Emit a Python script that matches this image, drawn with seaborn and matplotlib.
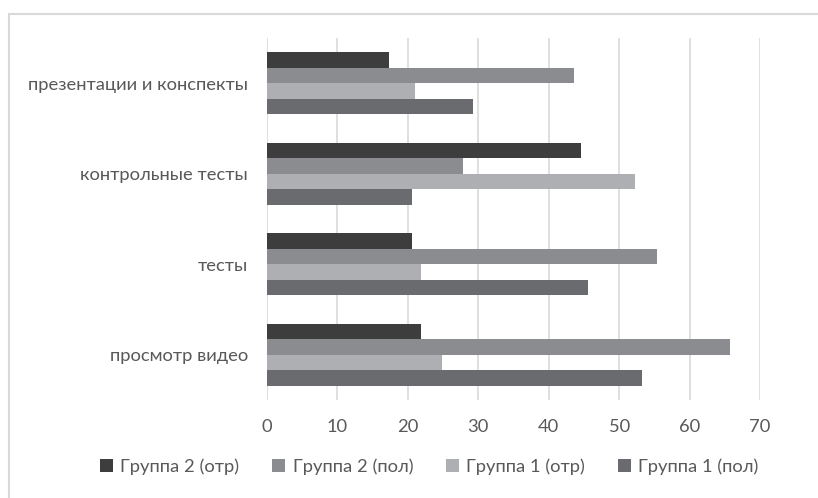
import matplotlib
matplotlib.use("Agg")
import matplotlib.pyplot as plt
import matplotlib.patches as mpatches
import seaborn as sns
import pandas as pd

categories = ["презентации и конспекты", "контрольные тесты", "тесты", "просмотр видео"]
series_names = ["Группа 2 (отр)", "Группа 2 (пол)", "Группа 1 (отр)", "Группа 1 (пол)"]
group2_neg = [17.3, 44.6, 20.6, 21.8]
group2_pos = [43.6, 27.9, 55.4, 65.8]
group1_neg = [21.0, 52.3, 21.8, 24.8]
group1_pos = [29.3, 20.6, 45.6, 53.2]
x_ticks = [0, 10, 20, 30, 40, 50, 60, 70]

colors = ["#3d3d3e", "#8b8c90", "#aeafb2", "#6a6b6f"]
text_color = "#595959"
font_size = 13.2

rows = []
for name, vals in zip(series_names, [group2_neg, group2_pos, group1_neg, group1_pos]):
    for cat, v in zip(categories, vals):
        rows.append({"category": cat, "series": name, "value": v})
df = pd.DataFrame(rows)

sns.set_theme(style="white")
plt.rcParams["font.family"] = ["Lato", "DejaVu Sans"]

fig = plt.figure(figsize=(8.18, 4.98), dpi=100)
ax = fig.add_axes([267 / 818, 1 - 400 / 498, (760 - 267) / 818, (400 - 38) / 498])

sns.barplot(
    data=df, y="category", x="value", hue="series",
    order=categories, hue_order=series_names, palette=colors,
    orient="h", width=0.685, saturation=1, ax=ax, legend=False,
    edgecolor="none", linewidth=0,
)

ax.set_xlim(0, 70)
ax.set_xticks(x_ticks)
ax.set_xticklabels([str(t) for t in x_ticks])
ax.set_xlabel("")
ax.set_ylabel("")
ax.xaxis.grid(True, color="#d9d9d9", linewidth=1.2)
ax.yaxis.grid(False)
ax.set_axisbelow(True)
for s in ax.spines.values():
    s.set_visible(False)
ax.tick_params(axis="x", length=0, pad=14, labelsize=font_size, labelcolor=text_color)
ax.tick_params(axis="y", length=0, pad=13.5, labelsize=font_size, labelcolor=text_color)

handles = [mpatches.Patch(facecolor=c, edgecolor="none") for c in colors]
fig.legend(
    handles, series_names, loc="center", ncol=4,
    bbox_to_anchor=(0.525, 1 - 467 / 498), frameon=False,
    handlelength=0.7, handleheight=0.7, handletextpad=0.4,
    columnspacing=1.8, fontsize=font_size, labelcolor=text_color,
)

# outer chart frame
fig.patches.append(mpatches.Rectangle(
    (9 / 818, -0.1), 1.2, 1 - 14 / 498 + 0.1, transform=fig.transFigure,
    fill=False, edgecolor="#d9d9d9", linewidth=1.5, figure=fig,
))

fig.savefig("out.png", dpi=100, facecolor="white")
